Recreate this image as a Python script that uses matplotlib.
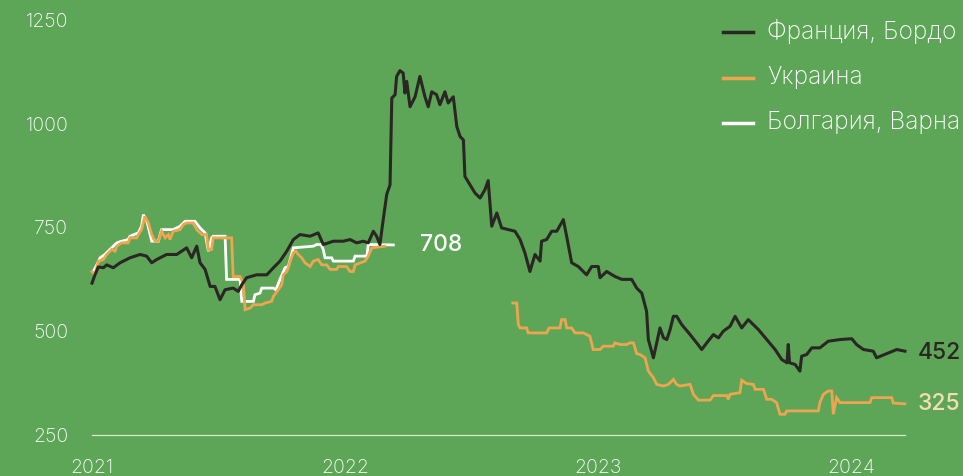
import matplotlib
matplotlib.use("Agg")
import matplotlib.pyplot as plt
from matplotlib.lines import Line2D

plt.rcParams['font.family'] = ['Inter', 'DejaVu Sans']

# время в долях года, значения в $/т
france_t = [2021.000, 2021.012, 2021.025, 2021.045, 2021.058, 2021.084, 2021.111, 2021.150, 2021.190, 2021.216,
            2021.236, 2021.256, 2021.295, 2021.335, 2021.374, 2021.394, 2021.414, 2021.427, 2021.447, 2021.467,
            2021.486, 2021.506, 2021.526, 2021.558, 2021.578, 2021.592, 2021.611, 2021.651, 2021.691, 2021.717,
            2021.743, 2021.770, 2021.796, 2021.822, 2021.862, 2021.894, 2021.914, 2021.954, 2021.993, 2022.020,
            2022.046, 2022.072, 2022.092, 2022.112, 2022.125, 2022.138, 2022.151, 2022.165, 2022.178, 2022.185,
            2022.198, 2022.204, 2022.217, 2022.230, 2022.237, 2022.244, 2022.257, 2022.277, 2022.296, 2022.316,
            2022.329, 2022.343, 2022.362, 2022.375, 2022.395, 2022.408, 2022.428, 2022.442, 2022.455, 2022.468,
            2022.474, 2022.494, 2022.514, 2022.534, 2022.553, 2022.566, 2022.580, 2022.600, 2022.619, 2022.645,
            2022.672, 2022.692, 2022.711, 2022.731, 2022.751, 2022.771, 2022.777, 2022.797, 2022.817, 2022.837,
            2022.863, 2022.876, 2022.896, 2022.922, 2022.955, 2022.975, 2023.001, 2023.008, 2023.034, 2023.067,
            2023.094, 2023.133, 2023.153, 2023.173, 2023.192, 2023.199, 2023.219, 2023.232, 2023.245, 2023.259,
            2023.272, 2023.285, 2023.298, 2023.311, 2023.331, 2023.364, 2023.390, 2023.410, 2023.430, 2023.456,
            2023.476, 2023.495, 2023.522, 2023.542, 2023.568, 2023.594, 2023.634, 2023.667, 2023.700, 2023.726,
            2023.747, 2023.752, 2023.757, 2023.779, 2023.798, 2023.805, 2023.825, 2023.845, 2023.877, 2023.910,
            2023.957, 2024.003, 2024.022, 2024.049, 2024.088, 2024.101, 2024.141, 2024.181, 2024.213]
france_v = [616, 636, 655, 653, 660, 653, 665, 677, 685, 681,
            665, 673, 685, 685, 701, 677, 705, 665, 649, 608,
            608, 576, 600, 604, 596, 612, 629, 636, 636, 653,
            669, 693, 721, 733, 729, 737, 709, 717, 717, 721,
            713, 717, 713, 741, 729, 709, 769, 830, 853, 1062,
            1070, 1114, 1128, 1122, 1074, 1102, 1041, 1065, 1114, 1065,
            1041, 1077, 1070, 1046, 1077, 1050, 1065, 993, 969, 961,
            873, 853, 833, 821, 841, 863, 753, 785, 749, 745,
            741, 721, 689, 644, 685, 669, 717, 721, 741, 741,
            769, 729, 665, 656, 636, 656, 656, 629, 644, 632,
            625, 625, 604, 592, 548, 480, 436, 472, 508, 484,
            480, 504, 536, 536, 516, 492, 472, 456, 472, 492,
            484, 500, 512, 536, 508, 528, 504, 480, 456, 432,
            424, 468, 424, 420, 404, 440, 444, 460, 460, 476,
            480, 482, 468, 456, 452, 436, 446, 456, 452]

ukraine1_t = [2021.000, 2021.012, 2021.025, 2021.045, 2021.058, 2021.078, 2021.091, 2021.098, 2021.117, 2021.143,
              2021.150, 2021.177, 2021.183, 2021.196, 2021.209, 2021.223, 2021.236, 2021.249, 2021.262, 2021.275,
              2021.289, 2021.302, 2021.308, 2021.321, 2021.348, 2021.361, 2021.374, 2021.400, 2021.414, 2021.434,
              2021.453, 2021.460, 2021.473, 2021.479, 2021.552, 2021.558, 2021.585, 2021.598, 2021.605, 2021.625,
              2021.638, 2021.671, 2021.684, 2021.710, 2021.717, 2021.736, 2021.750, 2021.756, 2021.770, 2021.776,
              2021.783, 2021.796, 2021.806, 2021.815, 2021.829, 2021.842, 2021.862, 2021.875, 2021.894, 2021.908,
              2021.928, 2021.941, 2021.967, 2021.974, 2022.006, 2022.020, 2022.033, 2022.040, 2022.079, 2022.092,
              2022.106, 2022.158]
ukraine1_v = [644, 636, 669, 673, 685, 697, 693, 705, 713, 713,
              725, 725, 733, 745, 777, 761, 733, 717, 717, 741,
              725, 733, 721, 741, 745, 757, 761, 761, 745, 733,
              733, 697, 697, 725, 725, 632, 632, 616, 552, 556,
              564, 564, 568, 572, 584, 600, 612, 636, 644, 653,
              669, 689, 693, 685, 677, 665, 656, 669, 673, 660,
              660, 649, 649, 656, 656, 644, 644, 660, 669, 681,
              701, 705]

ukraine2_t = [2022.663, 2022.679, 2022.685, 2022.692, 2022.718, 2022.724, 2022.797, 2022.807, 2022.850, 2022.856,
              2022.870, 2022.876, 2022.896, 2022.909, 2022.942, 2022.968, 2022.981, 2023.008, 2023.021, 2023.060,
              2023.067, 2023.087, 2023.113, 2023.126, 2023.140, 2023.153, 2023.166, 2023.186, 2023.199, 2023.219,
              2023.232, 2023.259, 2023.278, 2023.298, 2023.311, 2023.324, 2023.364, 2023.377, 2023.397, 2023.443,
              2023.456, 2023.509, 2023.515, 2023.522, 2023.561, 2023.568, 2023.587, 2023.614, 2023.621, 2023.654,
              2023.667, 2023.686, 2023.706, 2023.719, 2023.739, 2023.746, 2023.871, 2023.877, 2023.891, 2023.910,
              2023.924, 2023.930, 2023.943, 2023.957, 2024.075, 2024.082, 2024.161, 2024.167, 2024.213]
ukraine2_v = [568, 568, 516, 508, 508, 496, 496, 508, 508, 528,
              528, 508, 508, 496, 496, 488, 456, 456, 464, 464,
              472, 468, 468, 472, 472, 446, 444, 436, 404, 388,
              372, 368, 372, 384, 372, 368, 372, 348, 334, 334,
              345, 345, 336, 348, 352, 382, 374, 372, 360, 360,
              336, 336, 328, 300, 300, 308, 308, 328, 348, 356,
              356, 300, 340, 328, 328, 340, 340, 327, 325]

bulgaria_t = [2021.005, 2021.019, 2021.032, 2021.051, 2021.071, 2021.098, 2021.117, 2021.143, 2021.150, 2021.183,
              2021.196, 2021.203, 2021.217, 2021.236, 2021.262, 2021.275, 2021.321, 2021.348, 2021.368, 2021.407,
              2021.427, 2021.447, 2021.460, 2021.473, 2021.479, 2021.526, 2021.532, 2021.585, 2021.592, 2021.638,
              2021.644, 2021.664, 2021.671, 2021.717, 2021.727, 2021.743, 2021.763, 2021.776, 2021.796, 2021.875,
              2021.888, 2021.905, 2021.914, 2021.921, 2021.947, 2021.954, 2022.033, 2022.040, 2022.086, 2022.092,
              2022.191]
bulgaria_v = [644, 660, 677, 685, 697, 713, 717, 721, 729, 737,
              753, 781, 765, 717, 717, 745, 745, 753, 765, 765,
              749, 737, 693, 725, 729, 729, 625, 625, 572, 572,
              588, 592, 604, 604, 600, 625, 653, 656, 701, 705,
              709, 709, 697, 677, 677, 669, 669, 681, 681, 709,
              708]

names = ['Франция, Бордо', 'Украина', 'Болгария, Варна']
colors = ['#2a2624', '#eea54f', '#ffffff']

BG = '#5ea657'

fig = plt.figure(figsize=(9.63, 4.76), dpi=100, facecolor=BG)
ax = fig.add_axes([92 / 963, 41 / 476, 813 / 963, 415 / 476])
ax.set_facecolor(BG)

# белая линия рисуется под остальными
ax.plot(bulgaria_t, bulgaria_v, color=colors[2], lw=2.0, solid_joinstyle='miter', clip_on=False, zorder=2)
ax.plot(ukraine1_t, ukraine1_v, color=colors[1], lw=2.0, solid_joinstyle='miter', clip_on=False, zorder=3)
ax.plot(ukraine2_t, ukraine2_v, color=colors[1], lw=2.0, solid_joinstyle='miter', clip_on=False, zorder=3)
ax.plot(france_t, france_v, color=colors[0], lw=2.2, clip_on=False, zorder=4)

ax.set_xlim(2021.0, 2021 + 813 / 253)
ax.set_ylim(250, 1250)
ax.set_yticks([250, 500, 750, 1000, 1250])
ax.set_xticks([2021, 2022, 2023, 2024])
ax.tick_params(axis='both', length=0, colors='white', labelsize=14)
ax.tick_params(axis='y', pad=17)
ax.tick_params(axis='x', pad=17)
for lab in ax.get_xticklabels() + ax.get_yticklabels():
    lab.set_fontweight('light')

for side in ['top', 'right', 'left']:
    ax.spines[side].set_visible(False)
ax.spines['bottom'].set_color('#d8e8d2')
ax.spines['bottom'].set_linewidth(0.9)

# подписи последних значений
ax.annotate(str(bulgaria_v[-1]), (bulgaria_t[-1], bulgaria_v[-1]), xytext=(19, 0), textcoords='offset points',
            color='white', fontsize=16.5, fontweight='medium', va='center', ha='left')
ax.annotate(str(france_v[-1]), (france_t[-1], france_v[-1]), xytext=(9, -1), textcoords='offset points',
            color=colors[0], fontsize=16.5, fontweight='medium', va='center', ha='left')
ax.annotate(str(ukraine2_v[-1]), (ukraine2_t[-1], ukraine2_v[-1]), xytext=(9, 0), textcoords='offset points',
            color='#f6dcb2', fontsize=16.5, fontweight='medium', va='center', ha='left')

# легенда
for i, (name, col) in enumerate(zip(names, colors)):
    yy = 1 - (32 + i * 45.5) / 476
    fig.add_artist(Line2D([723 / 963, 753 / 963], [yy, yy], color=col, lw=2.5, transform=fig.transFigure))
    fig.text(767 / 963, yy, name, color='white', fontsize=17.6, fontweight='light', va='center', ha='left')

fig.savefig('out.png', dpi=100, facecolor=BG)
